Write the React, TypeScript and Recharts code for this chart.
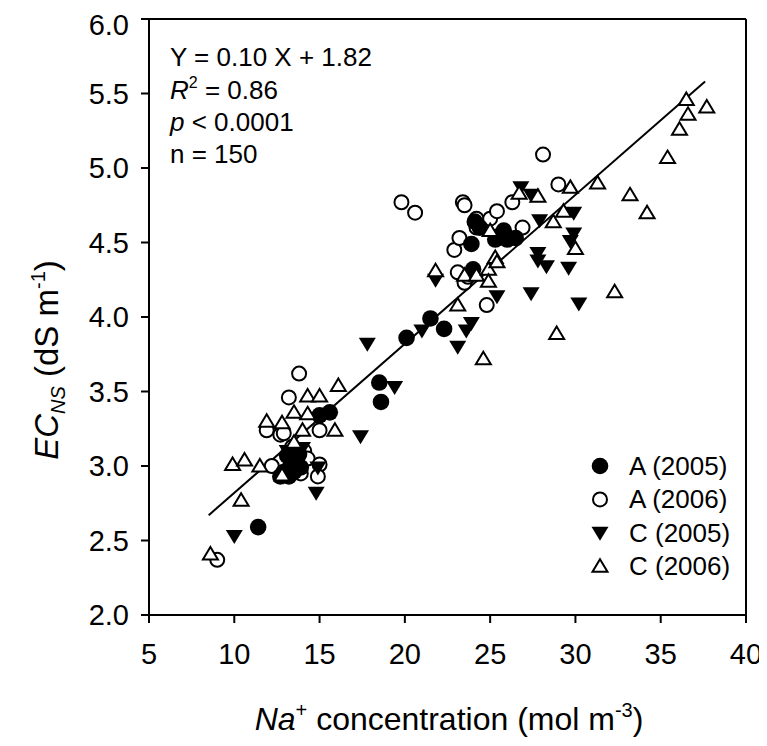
import React from 'react'
import { ScatterChart, Scatter, XAxis, YAxis, ReferenceLine } from 'recharts'

const FONT = '"Liberation Sans", Arial, sans-serif'

const xTicks = [5, 10, 15, 20, 25, 30, 35, 40]
const yTicks = [2, 2.5, 3, 3.5, 4, 4.5, 5, 5.5, 6]

// Na+ (mol m-3), EC_NS (dS m-1)
const a2005: [number, number][] = [
  [11.4, 2.59], [12.7, 2.93], [12.9, 2.96], [13.1, 3.07], [13.3, 3.01], [13.5, 2.96],
  [13.6, 3.05], [13.9, 2.99], [13.2, 2.93], [13.8, 3.08], [15.0, 3.34], [15.6, 3.36],
  [18.5, 3.56], [18.6, 3.43], [20.1, 3.86], [21.5, 3.99], [22.3, 3.92], [24.0, 4.32],
  [23.9, 4.49], [24.1, 4.64], [25.3, 4.52], [25.8, 4.58], [26.0, 4.52], [26.5, 4.53],
  [25.6, 4.55], [24.4, 4.6],
]

const a2006: [number, number][] = [
  [9.0, 2.37], [12.2, 3.0], [11.9, 3.24], [12.7, 3.21], [12.9, 3.22], [13.2, 3.46],
  [13.8, 3.62], [14.1, 3.1], [14.3, 3.05], [13.9, 2.95], [15.0, 3.24], [15.0, 3.01],
  [14.9, 2.93], [13.4, 3.13], [19.8, 4.77], [20.6, 4.7], [22.9, 4.45], [23.2, 4.53],
  [23.1, 4.3], [23.5, 4.23], [23.7, 4.27], [23.4, 4.77], [23.5, 4.75], [24.2, 4.66],
  [24.2, 4.6], [25.0, 4.66], [25.4, 4.71], [26.3, 4.77], [26.9, 4.6], [24.8, 4.08],
  [28.1, 5.09], [29.0, 4.89],
]

const c2005: [number, number][] = [
  [10.0, 2.53], [12.9, 2.93], [13.1, 3.1], [13.7, 3.01], [14.0, 3.12], [14.9, 2.99],
  [14.8, 2.82], [17.4, 3.2], [17.8, 3.82], [19.4, 3.53], [21.0, 3.91], [21.8, 4.25],
  [23.1, 3.8], [23.6, 3.91], [23.9, 3.96], [25.4, 4.14], [27.4, 4.16], [26.8, 4.87],
  [27.4, 4.82], [27.9, 4.65], [27.8, 4.43], [27.8, 4.38], [28.3, 4.34], [29.6, 4.33],
  [30.2, 4.09], [29.9, 4.56], [29.7, 4.51], [29.9, 4.7],
]

const c2006: [number, number][] = [
  [8.6, 2.41], [10.4, 2.77], [9.9, 3.01], [10.6, 3.04], [11.5, 3.0], [11.9, 3.3],
  [12.8, 3.29], [13.5, 3.36], [13.5, 3.16], [12.8, 2.94], [14.3, 3.47], [15.0, 3.47],
  [16.1, 3.54], [14.3, 3.35], [15.9, 3.24], [14.0, 3.24], [21.8, 4.31], [23.1, 4.08],
  [24.6, 3.72], [23.5, 4.28], [24.2, 4.28], [24.9, 4.32], [24.9, 4.24], [25.3, 4.4],
  [25.4, 4.37], [25.0, 4.58], [26.7, 4.83], [27.8, 4.81], [28.7, 4.64], [29.3, 4.71],
  [30.0, 4.46], [29.7, 4.87], [31.3, 4.9], [33.2, 4.82], [34.2, 4.7], [35.4, 5.07],
  [36.1, 5.26], [36.6, 5.36], [36.5, 5.46], [37.7, 5.41], [32.3, 4.17], [28.9, 3.89],
]

// fitted line Y = 0.10 X + 1.82, ends
const fitLine = [
  { x: 8.5, y: 2.67 },
  { x: 37.6, y: 5.58 },
]

const toPts = (arr: [number, number][]) => arr.map(([x, y]) => ({ x, y }))

const FilledCircle = (p: any) => <circle cx={p.cx} cy={p.cy} r={8.3} fill="#000" />
const OpenCircle = (p: any) => (
  <circle cx={p.cx} cy={p.cy} r={7} fill="#fff" stroke="#000" strokeWidth={2} />
)
const DownTri = (p: any) => {
  const { cx, cy } = p
  return <path d={`M${cx - 8.5},${cy - 6} L${cx + 8.5},${cy - 6} L${cx},${cy + 8} Z`} fill="#000" />
}
const UpTri = (p: any) => {
  const { cx, cy } = p
  return (
    <path
      d={`M${cx},${cy - 7} L${cx + 7.5},${cy + 5.5} L${cx - 7.5},${cy + 5.5} Z`}
      fill="#fff"
      stroke="#000"
      strokeWidth={2}
    />
  )
}

const tickStyle = { fontSize: 29, fill: '#000', fontFamily: FONT }

export default function App() {
  const W = 759
  const H = 730
  const legend = [
    { label: 'A (2005)', Shape: FilledCircle },
    { label: 'A (2006)', Shape: OpenCircle },
    { label: 'C (2005)', Shape: DownTri },
    { label: 'C (2006)', Shape: UpTri },
  ]
  return (
    <div style={{ position: 'relative', width: W, height: H, background: '#fff' }}>
      <ScatterChart width={W} height={H} margin={{ top: 11, right: 21, left: 0, bottom: 0 }}>
        <XAxis
          type="number"
          dataKey="x"
          domain={[5, 40]}
          ticks={xTicks}
          allowDataOverflow
          height={123}
          tickSize={8}
          tickMargin={20}
          tick={tickStyle}
          axisLine={{ stroke: '#000', strokeWidth: 2 }}
          tickLine={{ stroke: '#000', strokeWidth: 2 }}
        />
        <YAxis
          type="number"
          dataKey="y"
          domain={[2, 6]}
          ticks={yTicks}
          allowDataOverflow
          width={141}
          tickSize={8}
          tickMargin={12}
          tick={tickStyle}
          tickFormatter={(v: number) => v.toFixed(1)}
          axisLine={{ stroke: '#000', strokeWidth: 2 }}
          tickLine={{ stroke: '#000', strokeWidth: 2 }}
        />
        <ReferenceLine x={40} stroke="#000" strokeWidth={2} />
        <ReferenceLine y={6} stroke="#000" strokeWidth={2} />
        <Scatter data={fitLine} line={{ stroke: '#000', strokeWidth: 2 }} shape={() => null} isAnimationActive={false} />
        <Scatter data={toPts(a2006)} shape={OpenCircle} isAnimationActive={false} />
        <Scatter data={toPts(a2005)} shape={FilledCircle} isAnimationActive={false} />
        <Scatter data={toPts(c2005)} shape={DownTri} isAnimationActive={false} />
        <Scatter data={toPts(c2006)} shape={UpTri} isAnimationActive={false} />
      </ScatterChart>
      <svg
        width={W}
        height={H}
        style={{ position: 'absolute', left: 0, top: 0, pointerEvents: 'none', overflow: 'visible' }}
        fontFamily={FONT}
      >
        <g fontSize={26} fill="#000">
          <text x={162} y={58}>Y = 0.10 X + 1.82</text>
          <text x={162} y={91}>
            <tspan fontStyle="italic">R</tspan>
            <tspan fontSize={16} dy={-11}>2</tspan>
            <tspan dy={11}> = 0.86</tspan>
          </text>
          <text x={162} y={123}>
            <tspan fontStyle="italic">p</tspan> &lt; 0.0001
          </text>
          <text x={162} y={155}>n = 150</text>
        </g>
        <g fontSize={26} fill="#000">
          {legend.map((l, i) => {
            const base = 467 + i * 33.4
            return (
              <g key={l.label}>
                <l.Shape cx={592} cy={base - 9} />
                <text x={621} y={base}>{l.label}</text>
              </g>
            )
          })}
        </g>
        <text x={441} y={722} fontSize={32} textAnchor="middle" fill="#000">
          <tspan fontStyle="italic">Na</tspan>
          <tspan fontSize={20} dy={-13}>+</tspan>
          <tspan dy={13}> concentration (mol m</tspan>
          <tspan fontSize={20} dy={-13}>-3</tspan>
          <tspan dy={13}>)</tspan>
        </text>
        <text transform="translate(50,352) rotate(-90)" fontSize={33} textAnchor="middle" fill="#000">
          <tspan fontStyle="italic">EC</tspan>
          <tspan fontStyle="italic" fontSize={20} dy={7}>NS</tspan>
          <tspan dy={-7}> (dS m</tspan>
          <tspan fontSize={20} dy={-13}>-1</tspan>
          <tspan dy={13}>)</tspan>
        </text>
      </svg>
    </div>
  )
}
